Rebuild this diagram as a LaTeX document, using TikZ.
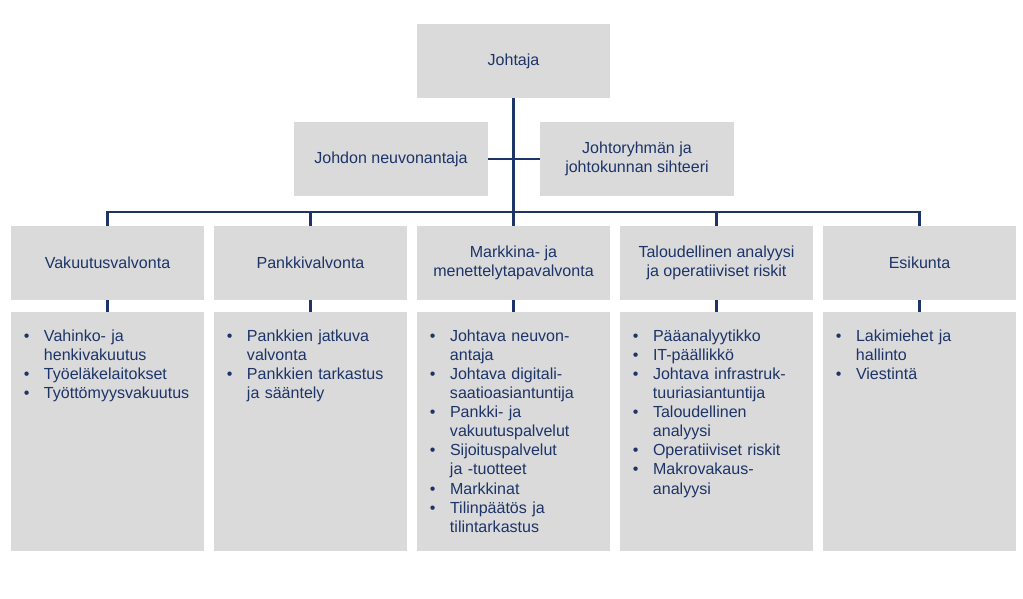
\documentclass[tikz,border=0pt]{standalone}
\usepackage{fontspec}
\setmainfont{Liberation Sans}
\usepackage{enumitem}
\usetikzlibrary{positioning}

\definecolor{finblue}{RGB}{28,52,104}
\definecolor{boxgray}{RGB}{218,218,218}

\newcommand{\orgfont}{\fontsize{11.4}{13.6}\selectfont}
\newcommand{\tasklist}[1]{%
  \begin{itemize}[nosep, labelindent=0pt, labelwidth=0.14cm, labelsep=0.36cm,
    leftmargin=!, align=left, label=\textbullet]#1\end{itemize}}

\tikzset{
  unit/.style={fill=boxgray, minimum width=4.825cm, minimum height=1.85cm,
    inner sep=0pt, text=finblue, align=center, font=\orgfont},
  tasks/.style={fill=boxgray, minimum width=4.825cm, minimum height=5.975cm,
    inner sep=0pt},
  items/.style={inner sep=0pt, text width=4.4cm, text=finblue, font=\orgfont},
  link/.style={draw=finblue, line width=1.6pt}
}

\begin{document}
\begin{tikzpicture}[x=0.025cm, y=-0.025cm]
  \useasboundingbox (0,0) rectangle (1023,598);

  % Management
  \node[unit] (joht) at (513.5,61) {Johtaja};
  \node[unit] (neuv) at (391,159) {Johdon neuvonantaja};
  \node[unit] (siht) at (637,159) {Johtoryhmän ja\\johtokunnan sihteeri};
  \coordinate (bar) at (513.5,212);

  % Departments
  \node[unit] (h1) at (107.5,263) {Vakuutusvalvonta};
  \node[unit] (h2) at (310.5,263) {Pankkivalvonta};
  \node[unit] (h3) at (513.5,263) {Markkina- ja\\menettelytapavalvonta};
  \node[unit] (h4) at (716.5,263) {Taloudellinen analyysi\\ja operatiiviset riskit};
  \node[unit] (h5) at (919.5,263) {Esikunta};

  % Task boxes
  \foreach \x [count=\i] in {107.5,310.5,513.5,716.5,919.5}
    \node[tasks] (d\i) at (\x,431.5) {};

  \node[items, below right=0.25cm and 0.325cm of d1.north west] (t1) {\tasklist{
    \item \strut Vahinko- ja\\henkivakuutus
    \item Työeläkelaitokset
    \item Työttömyysvakuutus}};
  \node[items, below right=0.25cm and 0.325cm of d2.north west] (t2) {\tasklist{
    \item \strut Pankkien jatkuva\\valvonta
    \item Pankkien tarkastus\\ja sääntely}};
  \node[items, below right=0.25cm and 0.325cm of d3.north west] (t3) {\tasklist{
    \item \strut Johtava neuvon-\\antaja
    \item Johtava digitali-\\saatioasiantuntija
    \item Pankki- ja\\vakuutuspalvelut
    \item Sijoituspalvelut\\ja -tuotteet
    \item Markkinat
    \item Tilinpäätös ja\\tilintarkastus}};
  \node[items, below right=0.25cm and 0.325cm of d4.north west] (t4) {\tasklist{
    \item \strut Pääanalyytikko
    \item IT-päällikkö
    \item Johtava infrastruk-\\tuuriasiantuntija
    \item Taloudellinen\\analyysi
    \item Operatiiviset riskit
    \item Makrovakaus-\\analyysi}};
  \node[items, below right=0.25cm and 0.325cm of d5.north west] (t5) {\tasklist{
    \item \strut Lakimiehet ja\\hallinto
    \item Viestintä}};

  % Connectors
  \draw[link] (joht) -- (bar);
  \draw[link] (neuv) -- (siht);
  \draw[link] (h1.north) -- (h1.north |- bar) -- (h5.north |- bar) -- (h5.north);
  \foreach \i in {2,3,4}
    \draw[link] (bar -| h\i.north) -- (h\i.north);
  \foreach \i in {1,...,5}
    \draw[link] (h\i) -- (d\i);
\end{tikzpicture}
\end{document}
